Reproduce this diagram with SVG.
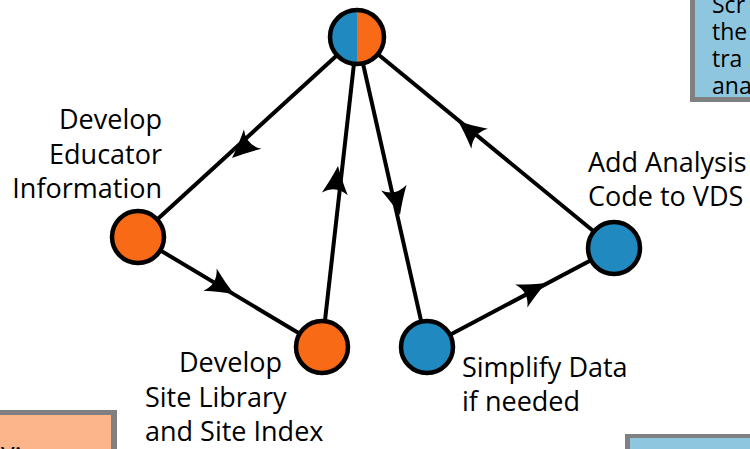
<svg xmlns="http://www.w3.org/2000/svg" xmlns:xlink="http://www.w3.org/1999/xlink" width="750" height="449" viewBox="0 0 750 449">
  <style>
    .lbl { font-family: "Open Sans", "Noto Sans", "DejaVu Sans", sans-serif; font-size: 27px; fill: #000; }
    .box { font-size: 23px; }
    .edge { stroke: #000; stroke-width: 4; fill: none; }
    .node { stroke: #000; stroke-width: 4.5; }
    .blue { fill: #2089C0; }
    .orange { fill: #F96A16; }
    .shadow { fill: #808080; }
    .boxblue { fill: #8EC6DF; }
    .boxsalmon { fill: #FCB48A; }
  </style>
  <defs>
    <path id="ah" d="M0,0 Q-13,-5 -28,-13 Q-19,0 -28,13 Q-13,5 0,0 Z" fill="#000"/>
  </defs>

  <g id="box-top-right">
    <rect class="shadow" x="690" y="-5" width="70" height="107"/>
    <rect class="boxblue" x="695" y="-5" width="60" height="102"/>
    <text class="lbl box" x="712" y="13">Scr</text>
    <text class="lbl box" x="712" y="40">the</text>
    <text class="lbl box" x="712" y="67">tra</text>
    <text class="lbl box" x="712" y="94">ana</text>
  </g>

  <g id="box-bottom-left">
    <rect class="shadow" x="-5" y="410" width="122" height="50"/>
    <rect class="boxsalmon" x="-5" y="415" width="116" height="50"/>
    <text class="lbl" x="1" y="462">y:</text>
  </g>

  <g id="box-bottom-right">
    <rect class="shadow" x="625" y="434" width="130" height="20"/>
    <rect class="boxblue" x="630" y="438" width="125" height="20"/>
  </g>

  <g id="connectors">
    <line class="edge" x1="357" y1="37" x2="138" y2="237"/>
    <line class="edge" x1="138" y1="237" x2="322" y2="347"/>
    <line class="edge" x1="322" y1="347" x2="357" y2="37"/>
    <line class="edge" x1="357" y1="37" x2="427" y2="347"/>
    <line class="edge" x1="427" y1="347" x2="614" y2="248"/>
    <line class="edge" x1="614" y1="248" x2="357" y2="37"/>
    <use xlink:href="#ah" transform="translate(232,158) rotate(137.6)"/>
    <use xlink:href="#ah" transform="translate(234,294) rotate(30.9)"/>
    <use xlink:href="#ah" transform="translate(338,166) rotate(-83.6)"/>
    <use xlink:href="#ah" transform="translate(400,215) rotate(77.3)"/>
    <use xlink:href="#ah" transform="translate(546,283) rotate(-27.9)"/>
    <use xlink:href="#ah" transform="translate(458,121) rotate(-140.6)"/>
  </g>

  <g id="node-top">
    <path class="blue" d="M357,10 A27,27 0 0 0 357,64 Z"/>
    <path class="orange" d="M357,10 A27,27 0 0 1 357,64 Z"/>
    <circle class="node" cx="357" cy="37" r="27" fill="none"/>
  </g>

  <g id="node-educator">
    <circle class="node orange" cx="138" cy="237" r="26"/>
    <text class="lbl" text-anchor="end" x="162" y="129">Develop</text>
    <text class="lbl" text-anchor="end" x="162" y="164">Educator</text>
    <text class="lbl" text-anchor="end" x="162" y="198">Information</text>
  </g>

  <g id="node-site">
    <circle class="node orange" cx="322" cy="347" r="26"/>
    <text class="lbl" x="179" y="372">Develop</text>
    <text class="lbl" x="145" y="407">Site Library</text>
    <text class="lbl" x="145" y="441">and Site Index</text>
  </g>

  <g id="node-simplify">
    <circle class="node blue" cx="427" cy="347" r="26"/>
    <text class="lbl" x="462" y="377">Simplify Data</text>
    <text class="lbl" x="462" y="411">if needed</text>
  </g>

  <g id="node-analysis">
    <circle class="node blue" cx="614" cy="248" r="26"/>
    <text class="lbl" x="588" y="172">Add Analysis</text>
    <text class="lbl" x="588" y="206">Code to VDS</text>
  </g>
</svg>
